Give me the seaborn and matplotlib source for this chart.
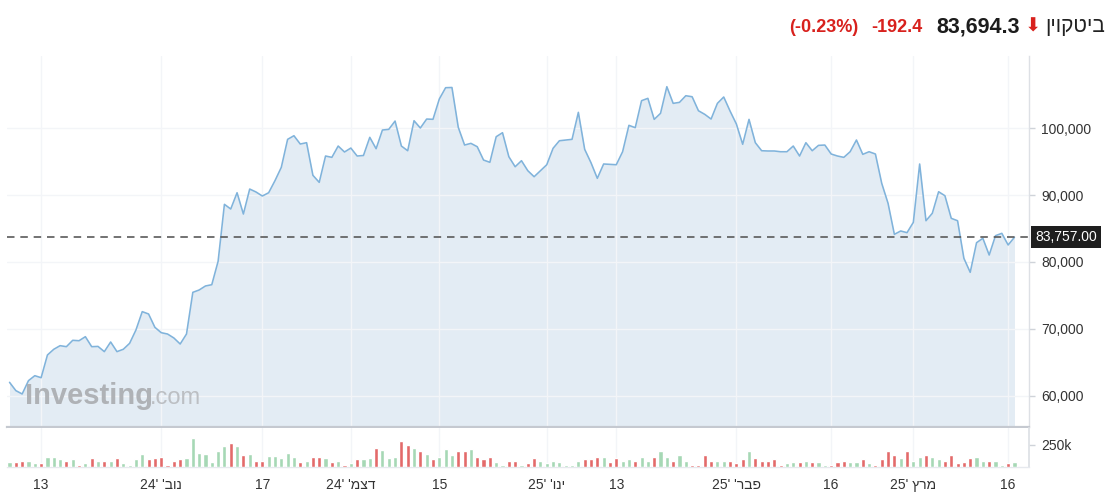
import numpy as np
import pandas as pd
import matplotlib
matplotlib.use("Agg")
import matplotlib.pyplot as plt
import matplotlib.transforms as mtransforms
import seaborn as sns

# ---------------- data ----------------
price = [
    62040, 60800, 60300, 62290, 63030, 62730, 66120, 66970, 67510, 67360,
    68310, 68250, 68850, 67360, 67400, 66620, 68060, 66620, 66970, 67860,
    69850, 72590, 72240, 70250, 69450, 69250, 68660, 67760, 69250, 75470,
    75820, 76420, 76610, 80100, 88610, 87910, 90340, 87160, 90890, 90450,
    89850, 90340, 92140, 94130, 98310, 98850, 97610, 97810, 92940, 91890,
    95820, 95620, 97310, 96420, 97010, 95820, 95900, 98610, 96910, 99700,
    99800, 101040, 97310, 96610, 101090, 100000, 101340, 101300, 104330, 106020,
    106050, 100100, 97460, 97710, 97210, 95220, 94880, 98700, 99300, 95720,
    94220, 95120, 93630, 92730, 93630, 94520, 96970, 98100, 98210, 98310,
    102340, 96820, 94820, 92490, 94630, 94580, 94520, 96460, 100400, 100050,
    104080, 104430, 101290, 102190, 106170, 103680, 103830, 104820, 104670, 102580,
    102040, 101340, 103680, 104630, 102540, 100600, 97570, 101290, 97810, 96610,
    96570, 96570, 96460, 96460, 97310, 95820, 97810, 96610, 97410, 97460,
    96120, 95820, 95620, 96460, 98210, 96070, 96460, 96120, 91740, 88760,
    84130, 84630, 84380, 85920, 94630, 86160, 87270, 90490, 89890, 86520,
    86160, 80550, 78460, 82880, 83540, 81040, 83930, 84280, 82540, 83694,
]
volume_k = [
    56, 56, 71, 71, 40, 44, 111, 111, 87, 71,
    87, 28, 40, 99, 71, 71, 71, 99, 40, 28,
    87, 147, 87, 99, 115, 28, 71, 87, 99, 326,
    159, 147, 56, 175, 234, 266, 234, 131, 147, 71,
    71, 127, 127, 99, 159, 111, 56, 71, 115, 115,
    99, 56, 71, 28, 40, 87, 87, 99, 218, 191,
    99, 115, 294, 250, 218, 175, 147, 87, 115, 206,
    131, 175, 175, 206, 115, 87, 115, 56, 28, 71,
    71, 28, 40, 99, 71, 40, 71, 56, 28, 28,
    71, 87, 87, 115, 115, 56, 99, 71, 87, 71,
    115, 71, 115, 175, 115, 71, 131, 71, 28, 28,
    131, 71, 71, 71, 71, 40, 87, 175, 99, 71,
    71, 87, 28, 40, 56, 56, 71, 56, 56, 28,
    28, 56, 71, 56, 56, 87, 40, 28, 87, 175,
    131, 99, 175, 71, 115, 131, 115, 87, 71, 131,
    40, 56, 99, 115, 71, 71, 71, 28, 40, 56,
]
volume_dir = ("grrggrgggr" "grgrgrgrgg" "ggrrrrrrgg" "gggggrgrgr"
              "rgggggrgrr" "grgrgrggrg" "ggrrgrgrgg" "grrgrrrggr"
              "rgrrgggggg" "grrrgrrggr" "ggrggrggrr" "rrggrrrgrr"
              "rrrggrgrgg" "rrrggrgrrr" "rgrggrggrr" "rrrggrggrg")

x_tick_pos = [5, 24, 40, 54, 68, 85, 96, 115, 130, 143, 158]
x_tick_labels = ["13", "נוב' '24", "17", "דצמ' '24", "15", "ינו' '25",
                 "13", "פבר' '25", "16", "מרץ '25", "16"]
y_ticks = [60000, 70000, 80000, 90000, 100000]
vol_tick = 250000
vol_tick_label = "250k"
ref_level = 83757.00

header_name = "ביטקוין"
header_price = "83,694.3"
header_change = "-192.4"
header_pct = "(-0.23%)"


def visual(s):
    """Hebrew is right-to-left; matplotlib draws left-to-right, so give it visual order."""
    if not any('\u0590' <= c <= '\u05FF' for c in s):
        return s
    if " '" in s:
        month, year = s.split(" '")
        return year + "' " + month[::-1]
    return s[::-1]


# ---------------- style ----------------
sns.set_theme(style="white")
FONT = ["Liberation Sans", "DejaVu Sans"]
plt.rcParams["font.family"] = FONT

W, H = 1117, 496
LINE = "#80b3db"
FILL = "#e3ecf4"
GREEN = "#a6d8b5"
RED = "#e36a6a"
GRID = "#f3f5f8"
TXT = "#333333"

fig = plt.figure(figsize=(W / 100, H / 100), dpi=100)
fig.patch.set_facecolor("white")

ax = fig.add_axes([7 / W, 1 - 427 / H, (1029 - 7) / W, (427 - 56) / H])
axv = fig.add_axes([7 / W, 1 - 467 / H, (1029 - 7) / W, (467 - 428) / H])

idx = np.arange(len(price))
df = pd.DataFrame({"i": idx, "price": price,
                   "vol": np.array(volume_k) * 1000,
                   "dir": ["up" if c == "g" else "down" for c in volume_dir]})

XMIN, XMAX = -0.4, 161.3
YMIN, YMAX = 55370, 110750

# price panel
ax.fill_between(df["i"], df["price"], YMIN - 10000, color=FILL, lw=0, zorder=1)
sns.lineplot(data=df, x="i", y="price", ax=ax, color=LINE, linewidth=1.15, zorder=4)
for yv in y_ticks:
    ax.axhline(yv, color=GRID, lw=1, zorder=1.5)
for xv in x_tick_pos:
    ax.axvline(xv, color=GRID, lw=1, zorder=1.5)
ax.axhline(ref_level, color="#5a5a5a", lw=1.2, ls=(0, (4.5, 3.5)), zorder=5)

ax.set_xlim(XMIN, XMAX)
ax.set_ylim(YMIN, YMAX)
ax.set_xlabel("")
ax.set_ylabel("")
ax.set_xticks([])
ax.yaxis.tick_right()
ax.set_yticks(y_ticks)
ax.set_yticklabels([f"{v:,}" for v in y_ticks])
ax.tick_params(axis="y", length=4, width=1, color="#cfd3d9", labelcolor=TXT,
               labelsize=10, pad=5, right=True, left=False)
for s in ["left", "top"]:
    ax.spines[s].set_visible(False)
ax.spines["right"].set_color("#dde0e5")
ax.spines["right"].set_linewidth(1)
ax.spines["bottom"].set_color("#c5c9d0")
ax.spines["bottom"].set_linewidth(1.6)

# reference level label
blend = mtransforms.blended_transform_factory(ax.transAxes, ax.transData)
ax.annotate(f"{ref_level:,.2f}", xy=(1.0, ref_level), xycoords=blend,
            xytext=(4.5, 0), textcoords="offset points", ha="left", va="center",
            color="white", fontsize=10, annotation_clip=False, zorder=10,
            bbox=dict(boxstyle="square,pad=0.3", fc="#1e1e1e", ec="none"))

# watermark
fig.text(25 / W, 1 - 404 / H, "Investing", fontsize=21, fontweight="bold",
         color="#afb2b6", ha="left", va="baseline", zorder=3)
fig.text(150 / W, 1 - 404 / H, ".com", fontsize=17, color="#bcbfc3",
         ha="left", va="baseline", zorder=3)

# volume panel
sns.barplot(data=df, x="i", y="vol", hue="dir", palette={"up": GREEN, "down": RED},
            native_scale=True, dodge=False, width=0.65, saturation=1,
            errorbar=None, legend=False, ax=axv, zorder=3)
for xv in x_tick_pos:
    axv.axvline(xv, color=GRID, lw=1, zorder=1)
axv.set_xlim(XMIN, XMAX)
axv.set_ylim(0, 440000)
axv.set_xlabel("")
axv.set_ylabel("")
axv.yaxis.tick_right()
axv.set_yticks([vol_tick])
axv.set_yticklabels([vol_tick_label])
axv.tick_params(axis="y", length=4, width=1, color="#cfd3d9", labelcolor=TXT,
                labelsize=10, pad=5, right=True, left=False)
axv.set_xticks(x_tick_pos)
axv.set_xticklabels([visual(t) for t in x_tick_labels])
axv.tick_params(axis="x", length=0, labelcolor=TXT, labelsize=10, pad=8)
for s in ["left", "top"]:
    axv.spines[s].set_visible(False)
axv.spines["right"].set_color("#dde0e5")
axv.spines["bottom"].set_color("#e6e9ee")
axv.spines["bottom"].set_linewidth(1)

# header
base = 1 - 32 / H
fig.text(1105 / W, base, visual(header_name), fontsize=15, color="#222222",
         ha="right", va="baseline", family=FONT)
fig.text(1033 / W, base, "\u2b07", fontsize=14, color="#d8211d",
         ha="center", va="baseline", family=["DejaVu Sans"])
fig.text(1020 / W, base, header_price, fontsize=15.5, fontweight="bold",
         color="#1c1c1c", ha="right", va="baseline")
fig.text(923 / W, base, header_change, fontsize=13, fontweight="bold",
         color="#d8211d", ha="right", va="baseline")
fig.text(858 / W, base, header_pct, fontsize=13, fontweight="bold",
         color="#d8211d", ha="right", va="baseline")

fig.savefig("out.png", dpi=100, facecolor="white")
